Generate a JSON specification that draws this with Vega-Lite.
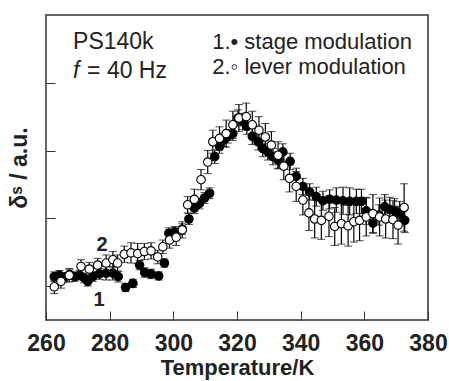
{
  "$schema": "https://vega.github.io/schema/vega-lite/v6.json",
  "autosize": "none",
  "width": 382,
  "height": 305,
  "padding": {"left": 46, "top": 15, "right": 21, "bottom": 61},
  "background": "white",
  "config": {
    "font": "Liberation Sans",
    "view": {"stroke": "#333", "strokeWidth": 1.5},
    "axis": {"domain": false, "grid": false, "tickColor": "#333", "labelColor": "#222", "titleColor": "#222"}
  },
  "datasets": {
    "pts": [
      {"series": "stage", "T": 262.6, "v": 0.64, "e": 0.07},
      {"series": "stage", "T": 264.2, "v": 0.66, "e": 0.07},
      {"series": "stage", "T": 265.8, "v": 0.63, "e": 0.07},
      {"series": "stage", "T": 267.4, "v": 0.67, "e": 0.07},
      {"series": "stage", "T": 269.0, "v": 0.64, "e": 0.07},
      {"series": "stage", "T": 270.6, "v": 0.66, "e": 0.07},
      {"series": "stage", "T": 272.0, "v": 0.62, "e": 0.07},
      {"series": "stage", "T": 273.1, "v": 0.57, "e": 0.07},
      {"series": "stage", "T": 274.7, "v": 0.64, "e": 0.07},
      {"series": "stage", "T": 276.8, "v": 0.68, "e": 0.08},
      {"series": "stage", "T": 278.9, "v": 0.69, "e": 0.1},
      {"series": "stage", "T": 281.0, "v": 0.69, "e": 0.1},
      {"series": "stage", "T": 282.7, "v": 0.64, "e": 0.08},
      {"series": "stage", "T": 285.0, "v": 0.48, "e": 0.06},
      {"series": "stage", "T": 287.3, "v": 0.54, "e": 0.06},
      {"series": "stage", "T": 289.4, "v": 0.81, "e": 0.07},
      {"series": "stage", "T": 291.0, "v": 0.70, "e": 0.07},
      {"series": "stage", "T": 293.0, "v": 0.68, "e": 0.07},
      {"series": "stage", "T": 295.4, "v": 0.65, "e": 0.06},
      {"series": "stage", "T": 297.2, "v": 0.84, "e": 0.06},
      {"series": "stage", "T": 298.6, "v": 1.28, "e": 0.08},
      {"series": "stage", "T": 300.4, "v": 1.30, "e": 0.08},
      {"series": "stage", "T": 302.8, "v": 1.34, "e": 0.08},
      {"series": "stage", "T": 304.9, "v": 1.49, "e": 0.08},
      {"series": "stage", "T": 306.6, "v": 1.65, "e": 0.08},
      {"series": "stage", "T": 308.2, "v": 1.72, "e": 0.08},
      {"series": "stage", "T": 309.8, "v": 1.80, "e": 0.08},
      {"series": "stage", "T": 311.4, "v": 1.87, "e": 0.08},
      {"series": "stage", "T": 313.0, "v": 2.41, "e": 0.1},
      {"series": "stage", "T": 314.5, "v": 2.56, "e": 0.1},
      {"series": "stage", "T": 316.0, "v": 2.66, "e": 0.1},
      {"series": "stage", "T": 317.1, "v": 2.71, "e": 0.1},
      {"series": "stage", "T": 318.7, "v": 2.75, "e": 0.1},
      {"series": "stage", "T": 320.3, "v": 2.98, "e": 0.12},
      {"series": "stage", "T": 321.8, "v": 2.93, "e": 0.12},
      {"series": "stage", "T": 323.1, "v": 2.86, "e": 0.12},
      {"series": "stage", "T": 324.8, "v": 2.71, "e": 0.12},
      {"series": "stage", "T": 326.6, "v": 2.63, "e": 0.12},
      {"series": "stage", "T": 328.1, "v": 2.53, "e": 0.12},
      {"series": "stage", "T": 329.7, "v": 2.48, "e": 0.12},
      {"series": "stage", "T": 331.3, "v": 2.41, "e": 0.12},
      {"series": "stage", "T": 332.9, "v": 2.36, "e": 0.12},
      {"series": "stage", "T": 334.4, "v": 2.48, "e": 0.12},
      {"series": "stage", "T": 336.7, "v": 2.34, "e": 0.12},
      {"series": "stage", "T": 338.6, "v": 2.12, "e": 0.12},
      {"series": "stage", "T": 340.7, "v": 1.97, "e": 0.12},
      {"series": "stage", "T": 342.8, "v": 1.89, "e": 0.12},
      {"series": "stage", "T": 344.9, "v": 1.82, "e": 0.14},
      {"series": "stage", "T": 347.0, "v": 1.76, "e": 0.14},
      {"series": "stage", "T": 349.1, "v": 1.78, "e": 0.14},
      {"series": "stage", "T": 351.2, "v": 1.77, "e": 0.18},
      {"series": "stage", "T": 353.3, "v": 1.76, "e": 0.2},
      {"series": "stage", "T": 355.4, "v": 1.75, "e": 0.2},
      {"series": "stage", "T": 357.5, "v": 1.75, "e": 0.18},
      {"series": "stage", "T": 359.1, "v": 1.75, "e": 0.18},
      {"series": "stage", "T": 360.6, "v": 1.61, "e": 0.2},
      {"series": "stage", "T": 362.7, "v": 1.43, "e": 0.15},
      {"series": "stage", "T": 364.6, "v": 1.55, "e": 0.15},
      {"series": "stage", "T": 366.4, "v": 1.67, "e": 0.18},
      {"series": "stage", "T": 368.0, "v": 1.63, "e": 0.18},
      {"series": "stage", "T": 369.5, "v": 1.61, "e": 0.18},
      {"series": "stage", "T": 371.1, "v": 1.57, "e": 0.18},
      {"series": "stage", "T": 372.7, "v": 1.47, "e": 0.18},
      {"series": "lever", "T": 262.6, "v": 0.49, "e": 0.1},
      {"series": "lever", "T": 264.7, "v": 0.57, "e": 0.1},
      {"series": "lever", "T": 267.3, "v": 0.66, "e": 0.1},
      {"series": "lever", "T": 271.0, "v": 0.79, "e": 0.1},
      {"series": "lever", "T": 273.6, "v": 0.75, "e": 0.1},
      {"series": "lever", "T": 276.2, "v": 0.81, "e": 0.1},
      {"series": "lever", "T": 278.9, "v": 0.84, "e": 0.12},
      {"series": "lever", "T": 281.0, "v": 0.89, "e": 0.12},
      {"series": "lever", "T": 282.5, "v": 0.84, "e": 0.12},
      {"series": "lever", "T": 284.6, "v": 0.97, "e": 0.12},
      {"series": "lever", "T": 286.7, "v": 0.99, "e": 0.15},
      {"series": "lever", "T": 288.8, "v": 0.98, "e": 0.15},
      {"series": "lever", "T": 290.9, "v": 1.01, "e": 0.12},
      {"series": "lever", "T": 293.0, "v": 1.02, "e": 0.12},
      {"series": "lever", "T": 295.1, "v": 0.93, "e": 0.1},
      {"series": "lever", "T": 296.7, "v": 1.08, "e": 0.1},
      {"series": "lever", "T": 298.8, "v": 1.18, "e": 0.12},
      {"series": "lever", "T": 300.9, "v": 1.22, "e": 0.12},
      {"series": "lever", "T": 302.8, "v": 1.33, "e": 0.12},
      {"series": "lever", "T": 304.5, "v": 1.70, "e": 0.12},
      {"series": "lever", "T": 306.6, "v": 1.78, "e": 0.15},
      {"series": "lever", "T": 308.7, "v": 2.07, "e": 0.15},
      {"series": "lever", "T": 310.8, "v": 2.33, "e": 0.17},
      {"series": "lever", "T": 312.4, "v": 2.63, "e": 0.17},
      {"series": "lever", "T": 314.5, "v": 2.68, "e": 0.17},
      {"series": "lever", "T": 316.6, "v": 2.75, "e": 0.2},
      {"series": "lever", "T": 318.7, "v": 2.88, "e": 0.2},
      {"series": "lever", "T": 320.6, "v": 2.98, "e": 0.2},
      {"series": "lever", "T": 322.9, "v": 3.00, "e": 0.2},
      {"series": "lever", "T": 324.8, "v": 2.88, "e": 0.2},
      {"series": "lever", "T": 326.9, "v": 2.80, "e": 0.2},
      {"series": "lever", "T": 328.9, "v": 2.70, "e": 0.2},
      {"series": "lever", "T": 330.8, "v": 2.58, "e": 0.2},
      {"series": "lever", "T": 332.9, "v": 2.43, "e": 0.2},
      {"series": "lever", "T": 334.7, "v": 2.27, "e": 0.2},
      {"series": "lever", "T": 336.5, "v": 2.09, "e": 0.2},
      {"series": "lever", "T": 338.6, "v": 1.97, "e": 0.22},
      {"series": "lever", "T": 340.7, "v": 1.77, "e": 0.22},
      {"series": "lever", "T": 342.6, "v": 1.58, "e": 0.26},
      {"series": "lever", "T": 344.4, "v": 1.49, "e": 0.28},
      {"series": "lever", "T": 346.5, "v": 1.47, "e": 0.28},
      {"series": "lever", "T": 348.9, "v": 1.53, "e": 0.3},
      {"series": "lever", "T": 350.7, "v": 1.38, "e": 0.28},
      {"series": "lever", "T": 352.8, "v": 1.42, "e": 0.3},
      {"series": "lever", "T": 354.9, "v": 1.39, "e": 0.3},
      {"series": "lever", "T": 356.7, "v": 1.45, "e": 0.3},
      {"series": "lever", "T": 358.5, "v": 1.47, "e": 0.3},
      {"series": "lever", "T": 360.6, "v": 1.52, "e": 0.28},
      {"series": "lever", "T": 362.7, "v": 1.57, "e": 0.28},
      {"series": "lever", "T": 364.8, "v": 1.52, "e": 0.28},
      {"series": "lever", "T": 366.7, "v": 1.49, "e": 0.28},
      {"series": "lever", "T": 369.0, "v": 1.48, "e": 0.28},
      {"series": "lever", "T": 370.6, "v": 1.40, "e": 0.28},
      {"series": "lever", "T": 372.5, "v": 1.66, "e": 0.35}
    ]
  },
  "layer": [
    {
      "data": {"name": "pts"},
      "mark": {"type": "errorbar", "color": "black", "ticks": {"size": 8, "color": "black", "strokeWidth": 1.2}, "rule": {"strokeWidth": 1.2}},
      "encoding": {
        "x": {"field": "T", "type": "quantitative", "scale": {"domain": [260, 380], "nice": false},
              "axis": {"values": [260,265,270,275,280,285,290,295,300,305,310,315,320,325,330,335,340,345,350,355,360,365,370,375,380],
                       "tickSize": {"condition": {"test": "datum.value % 20 === 0", "value": -9}, "value": -5},
                       "labelExpr": "datum.value % 20 === 0 ? datum.label : ''",
                       "labelFontSize": 23, "labelFontWeight": "bold", "labelPadding": 21, "labelFlush": false, "labelOverlap": false,
                       "title": "Temperature/K", "titleFontSize": 22, "titleFontWeight": "bold", "titlePadding": 2}},
        "y": {"field": "v", "type": "quantitative", "scale": {"domain": [0, 4.5], "nice": false, "zero": false},
              "axis": {"values": [0.5, 1.5, 2.5, 3.5], "tickSize": -9, "labels": false, "title": "δˢ / a.u.", "titleFontSize": 23, "titleFontWeight": "bold", "titlePadding": 14}},
        "yError": {"field": "e"}
      }
    },
    {
      "data": {"name": "pts"},
      "mark": {"type": "point", "filled": true, "stroke": "black", "strokeWidth": 1.1, "size": 72, "opacity": 1},
      "encoding": {
        "x": {"field": "T", "type": "quantitative"},
        "y": {"field": "v", "type": "quantitative"},
        "fill": {"field": "series", "type": "nominal", "scale": {"domain": ["stage", "lever"], "range": ["black", "white"]}, "legend": null}
      }
    },
    {
      "data": {"values": [
        {"T": 268.5, "v": 4.0, "label": "PS140k", "fs": 23},
        {"T": 272.9, "v": 3.57, "label": "= 40 Hz", "fs": 23},
        {"T": 312.2, "v": 4.0, "label": "1.• stage modulation", "fs": 22},
        {"T": 312.2, "v": 3.63, "label": "2.◦ lever modulation", "fs": 22}
      ]},
      "mark": {"type": "text", "align": "left", "baseline": "alphabetic", "color": "#222"},
      "encoding": {
        "x": {"field": "T", "type": "quantitative"},
        "y": {"field": "v", "type": "quantitative"},
        "text": {"field": "label"},
        "size": {"field": "fs", "type": "quantitative", "scale": null}
      }
    },
    {
      "data": {"values": [{"T": 268.5, "v": 3.57, "label": "f"}]},
      "mark": {"type": "text", "align": "left", "baseline": "alphabetic", "fontSize": 23, "fontStyle": "italic", "color": "#222"},
      "encoding": {
        "x": {"field": "T", "type": "quantitative"},
        "y": {"field": "v", "type": "quantitative"},
        "text": {"field": "label"}
      }
    },
    {
      "data": {"values": [{"T": 277.6, "v": 1.11, "label": "2"}, {"T": 276.7, "v": 0.3, "label": "1"}]},
      "mark": {"type": "text", "align": "center", "baseline": "middle", "fontSize": 20, "fontWeight": "bold", "color": "#222"},
      "encoding": {
        "x": {"field": "T", "type": "quantitative"},
        "y": {"field": "v", "type": "quantitative"},
        "text": {"field": "label"}
      }
    }
  ]
}
